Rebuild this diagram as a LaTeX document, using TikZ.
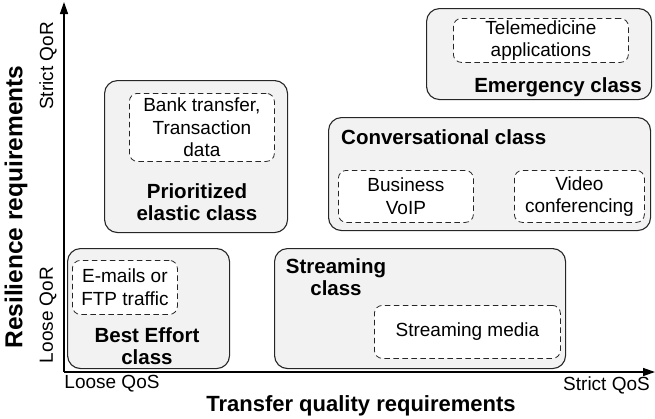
\documentclass[tikz,border=0pt]{standalone}
\usepackage{fontspec}
\setmainfont{Liberation Sans}
\usetikzlibrary{arrows.meta}
\begin{document}
\begin{tikzpicture}[x=1pt,y=-1pt,
  cls/.style={draw=black!85, fill=black!5, rounded corners=13pt, line width=1.1pt,
    anchor=north west, inner sep=0pt},
  ex/.style={draw=black!85, fill=white, dash pattern=on 5.5pt off 3.5pt,
    rounded corners=8pt, line width=0.8pt, anchor=north west, inner sep=0pt},
  txt/.style={font=\fontsize{19}{22.5}\selectfont, align=center, inner sep=0pt},
  bld/.style={txt, font=\fontsize{20.5}{22.5}\selectfont\bfseries},
  axis/.style={line width=1.4pt, -{Triangle[length=12pt,width=8pt]}}]
\useasboundingbox (0,0) rectangle (655,418);

% class boxes
\node[cls, minimum width=162pt, minimum height=120pt] (be) at (67,248) {};
\node[cls, minimum width=291pt, minimum height=120pt] (st) at (274,248) {};
\node[cls, minimum width=183pt, minimum height=152pt] (pe) at (104,80) {};
\node[cls, minimum width=322pt, minimum height=113pt] (cv) at (328,117) {};
\node[cls, minimum width=225pt, minimum height=91pt] (em) at (426,8) {};

% example applications
\node[ex, minimum width=105pt, minimum height=54pt] (mail) at (72,260) {};
\node[ex, minimum width=186pt, minimum height=53pt] (smed) at (374,305) {};
\node[ex, minimum width=145pt, minimum height=68pt] (bank) at (129,93) {};
\node[ex, minimum width=135pt, minimum height=52pt] (voip) at (338,170) {};
\node[ex, minimum width=130pt, minimum height=52pt] (vid) at (514,170) {};
\node[ex, minimum width=175pt, minimum height=44pt] (tele) at (453,18) {};

\node[txt] at (mail.center) {E-mails or\\FTP traffic};
\node[txt] at (smed.center) {Streaming media};
\node[txt] at (bank.center) {Bank transfer,\\Transaction\\data};
\node[txt] at (voip.center) {Business\\VoIP};
\node[txt] at (vid.center) {Video\\conferencing};
\node[txt] at (tele.center) {Telemedicine\\applications};

% class names
\node[bld] (bel) at (147,346) {Best Effort\\class};
\node[bld] (stl) at (336,277) {Streaming\\class};
\node[bld] (pel) at (197,202) {Prioritized\\elastic class};
\node[bld, anchor=west] (cvl) at (341,137) {Conversational class};
\node[bld, anchor=east] (eml) at (642,87) {Emergency class};

% axes
\coordinate (o) at (64,372);
\coordinate (ytop) at (64,2);
\coordinate (xend) at (655,372);
\draw[axis] (o) -- (ytop);
\draw[axis] (o) -- (xend);

\node[txt] (lqos) at (112,384) {Loose QoS};
\node[txt, anchor=east] (sqos) at (650,385) {Strict QoS};
\node[bld, font=\fontsize{22}{24}\selectfont\bfseries] (xlab) at (361,406) {Transfer quality requirements};
\node[txt, rotate=90] (sqor) at (48,66) {Strict QoR};
\node[txt, rotate=90] (lqor) at (48,315) {Loose QoR};
\node[bld, rotate=90, font=\fontsize{24.5}{26}\selectfont\bfseries] (ylab) at (16,207) {Resilience requirements};
\end{tikzpicture}
\end{document}
